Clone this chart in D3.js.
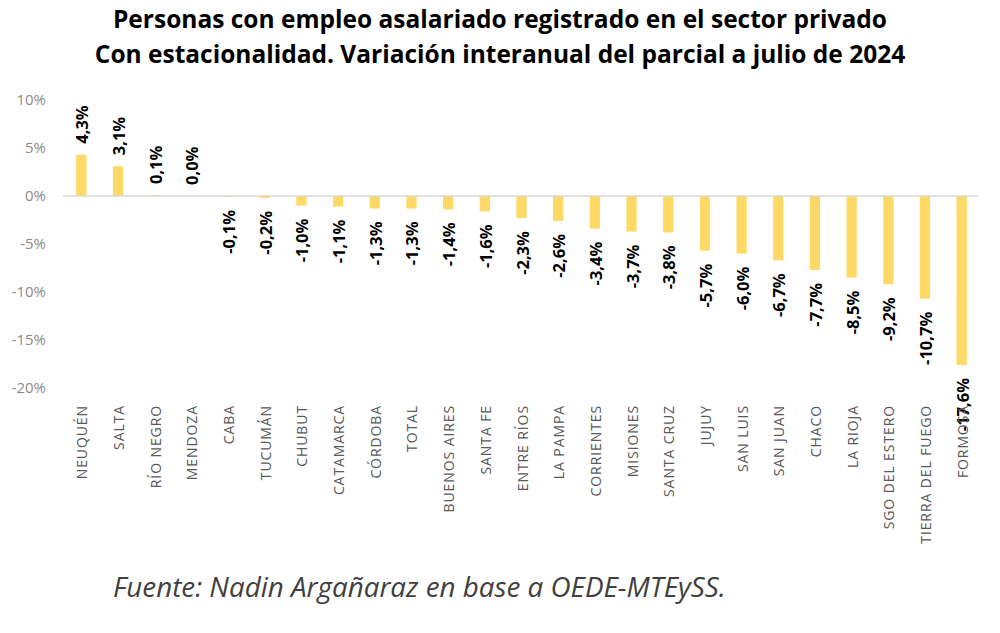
<!DOCTYPE html>
<html><head><meta charset="utf-8">
<script src="https://cdn.jsdelivr.net/npm/d3@7"></script>
<style>body{margin:0;background:#fff}</style>
</head><body>
<svg id="c" width="1000" height="633"></svg>
<script>
const categories = ["NEUQUÉN","SALTA","RÍO NEGRO","MENDOZA","CABA","TUCUMÁN","CHUBUT","CATAMARCA","CÓRDOBA","TOTAL","BUENOS AIRES","SANTA FE","ENTRE RÍOS","LA PAMPA","CORRIENTES","MISIONES","SANTA CRUZ","JUJUY","SAN LUIS","SAN JUAN","CHACO","LA RIOJA","SGO DEL ESTERO","TIERRA DEL FUEGO","FORMOSA"];
const values = [4.3,3.1,0.1,0.0,-0.1,-0.2,-1.0,-1.1,-1.3,-1.3,-1.4,-1.6,-2.3,-2.6,-3.4,-3.7,-3.8,-5.7,-6.0,-6.7,-7.7,-8.5,-9.2,-10.7,-17.6];
const yTicks = [10,5,0,-5,-10,-15,-20];
const titleLines = ["Personas con empleo asalariado registrado en el sector privado","Con estacionalidad. Variación interanual del parcial a julio de 2024"];
const source = "Fuente: Nadin Argañaraz en base a OEDE-MTEySS.";

const svg = d3.select("#c");
const font = "'Open Sans', sans-serif";
const x = d3.scaleBand().domain(categories).range([63, 980]).paddingInner(0.72).paddingOuter(0.36);
const y = d3.scaleLinear().domain([-20, 10]).range([388, 100]);
const fmt = v => v.toFixed(1).replace(".", ",") + "%";
const cx = c => x(c) + x.bandwidth()/2;

svg.append("g").selectAll("text").data(titleLines).join("text")
  .attr("x", 500).attr("y", (d,i) => 28 + i*35)
  .attr("text-anchor", "middle").attr("font-family", font).attr("font-weight", "bold")
  .attr("font-size", 24.5).attr("fill", "#000").text(d => d);

const yAxis = svg.append("g").attr("transform", "translate(46,0)")
  .call(d3.axisLeft(y).tickValues(yTicks).tickSize(0).tickPadding(0).tickFormat(d => d + "%"));
yAxis.select(".domain").remove();
yAxis.selectAll("text").attr("font-family", font).attr("font-size", 15).attr("fill", "#8a8a8a");

svg.append("g").selectAll("rect").data(values).join("rect")
  .attr("x", (d,i) => x(categories[i])).attr("width", x.bandwidth())
  .attr("y", d => y(Math.max(0, d))).attr("height", d => Math.abs(y(d) - y(0)))
  .attr("fill", "#FFD966");

svg.append("line").attr("x1", 63).attr("x2", 978).attr("y1", y(0)).attr("y2", y(0))
  .attr("stroke", "#d9d9d9").attr("stroke-width", 1.5);

svg.append("g").selectAll("text").data(values).join("text")
  .attr("transform", (d,i) => {
    const yy = d >= 0 ? y(d) - 11 : y(d) + 13;
    return `translate(${cx(categories[i]) + 7},${yy}) rotate(-90)`;
  })
  .attr("text-anchor", d => d >= 0 ? "start" : "end")
  .attr("font-family", font).attr("font-weight", "bold").attr("font-size", 16.5).attr("fill", "#000")
  .text(fmt);

svg.append("g").selectAll("text").data(categories).join("text")
  .attr("transform", d => `translate(${cx(d) + 6},405) rotate(-90)`)
  .attr("text-anchor", "end").attr("font-family", font).attr("font-size", 14)
  .attr("letter-spacing", 0.9).attr("fill", "#595959")
  .text(d => d);

svg.append("text").attr("x", 113).attr("y", 597).attr("font-family", font).attr("font-style", "italic")
  .attr("font-size", 27.8).attr("fill", "#404040").text(source);
</script>
</body></html>
